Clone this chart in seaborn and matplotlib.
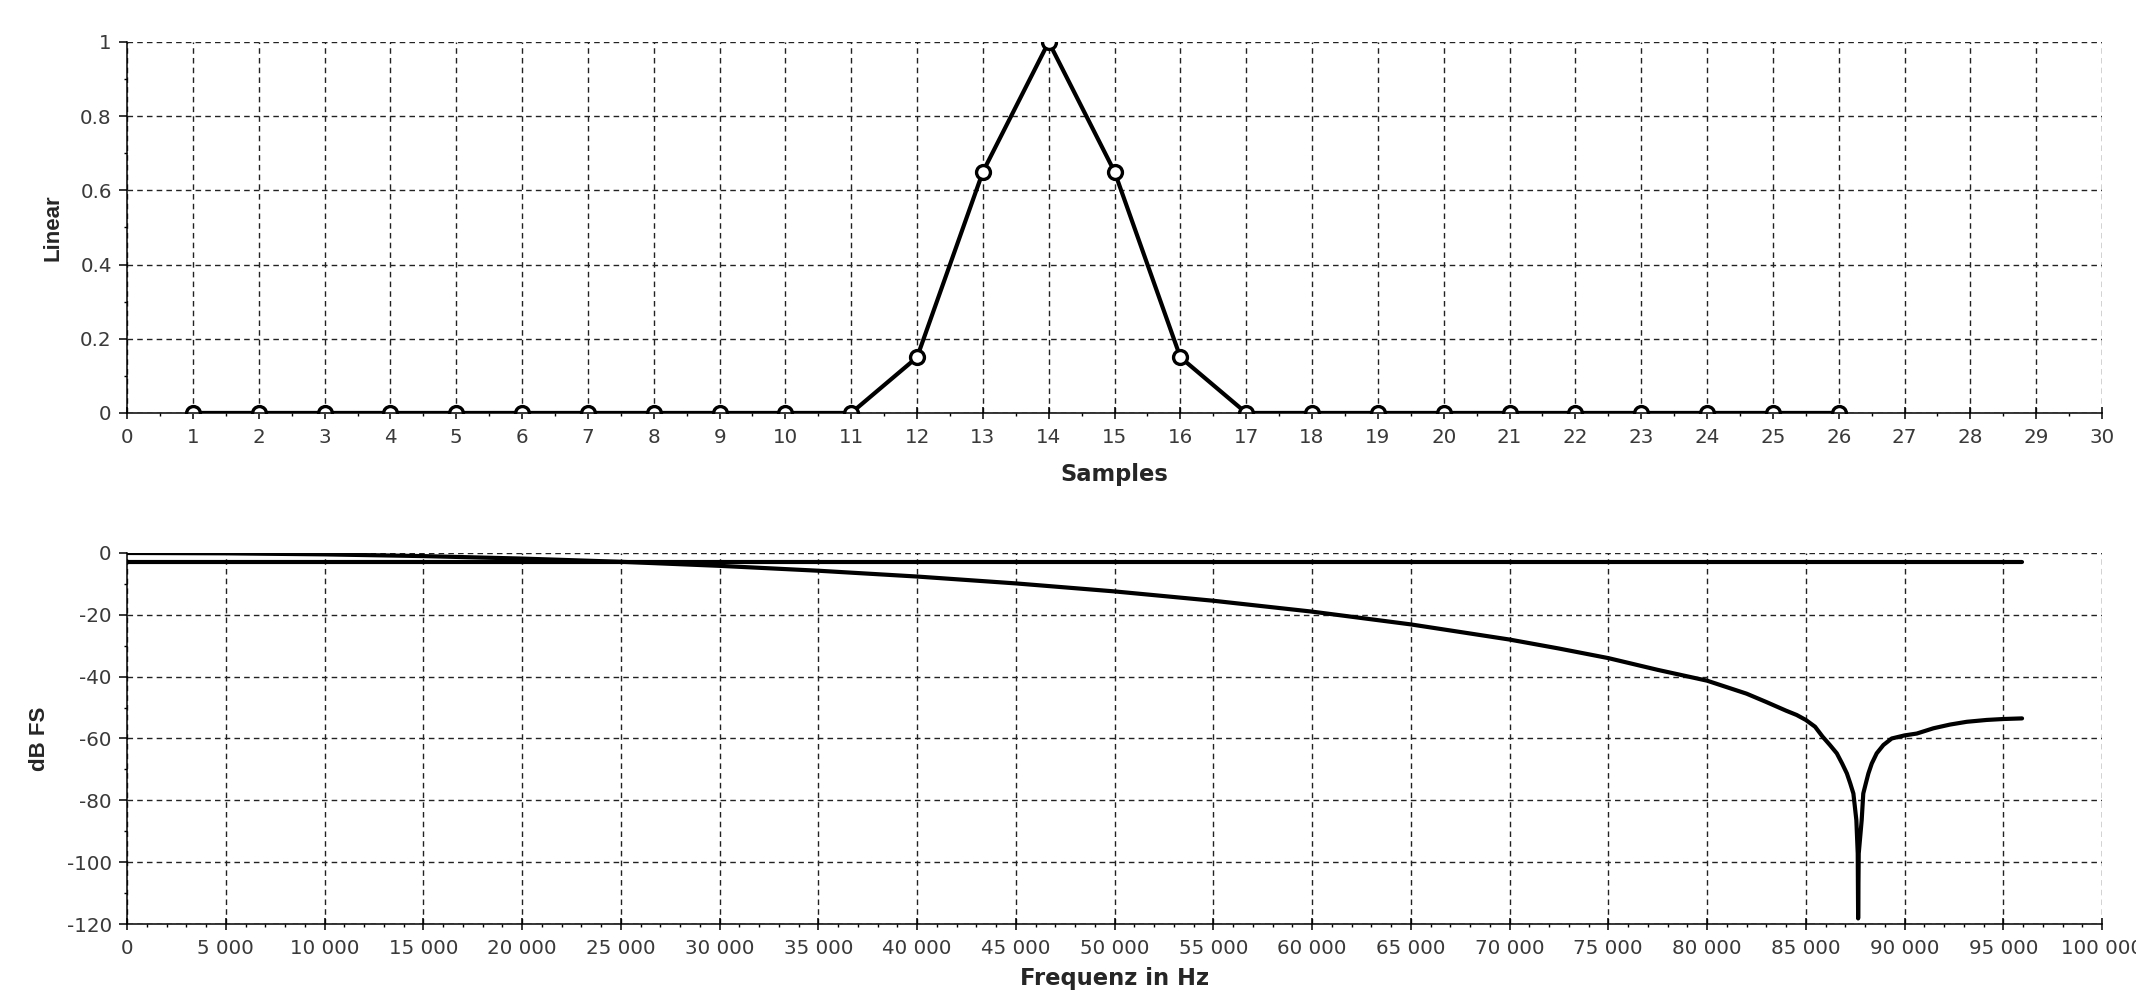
import numpy as np
import pandas as pd
import seaborn as sns
import matplotlib
matplotlib.use('Agg')
import matplotlib.pyplot as plt
from matplotlib.ticker import MultipleLocator, FuncFormatter, FormatStrFormatter

sns.set_theme(style='ticks')
plt.rcParams['font.family'] = ['DejaVu Sans']

# impulse response (top)
samples = list(range(1, 27))
amplitude = [0, 0, 0, 0, 0, 0, 0, 0, 0, 0, 0,
             0.15, 0.65, 1.0, 0.65, 0.15,
             0, 0, 0, 0, 0, 0, 0, 0, 0, 0]

# frequency response (bottom)
freq_hz = [0, 5000, 10000, 15000, 20000, 25000, 30000, 35000, 40000, 45000,
           50000, 55000, 60000, 65000, 70000, 72500, 75000, 77500, 80000, 82000,
           83000, 84000, 84540, 85000, 85470, 85850, 86220, 86570, 86840, 87080,
           87250, 87410, 87560, 87630, 87650,
           87680, 87830, 87910, 88040, 88170, 88340, 88590, 88930, 89350, 90000,
           90620, 91460, 92300, 93150, 94160, 95000, 95950]
response_db = [0.0, -0.11, -0.45, -1.01, -1.81, -2.85, -4.16, -5.74, -7.62, -9.84,
               -12.43, -15.45, -18.97, -23.1, -28.0, -30.9, -34.0, -37.8, -41.3, -45.5,
               -48.2, -51.0, -52.4, -54.0, -56.2, -59.4, -62.1, -64.8, -68.1, -71.3,
               -74.5, -77.8, -86.4, -97.2, -118.2,
               -97.2, -86.4, -77.8, -74.5, -71.3, -68.1, -64.8, -62.1, -60.0, -59.0,
               -58.4, -56.7, -55.5, -54.6, -54.0, -53.7, -53.5]

# -3 dB reference line
ref_hz = [0, 95950]
ref_db = [-3, -3]

TICK_COLOR = '#3a3a3a'
GRID_DASH = (0, (4, 3))


def style_axes(ax):
    for side in ['top', 'right']:
        ax.spines[side].set_visible(False)
    for side in ['left', 'bottom']:
        ax.spines[side].set_color('black')
        ax.spines[side].set_linewidth(1.1)
    ax.set_axisbelow(True)
    ax.grid(True, which='major', color='#222222', linestyle=GRID_DASH, linewidth=1.0)
    ax.tick_params(axis='x', which='major', direction='inout', length=9, width=1.1,
                   pad=6, labelsize=14.3, labelcolor=TICK_COLOR, color='black')
    ax.tick_params(axis='x', which='minor', direction='out', length=2.5, width=1.0,
                   color='black')
    ax.tick_params(axis='y', which='major', direction='out', length=6, width=1.1,
                   pad=5, labelsize=14.3, labelcolor=TICK_COLOR, color='black')
    ax.tick_params(axis='y', which='minor', direction='out', length=2.5, width=1.0,
                   color='black')


fig = plt.figure(figsize=(21.36, 9.91), dpi=100)

# top: samples
ax1 = fig.add_axes([0.0595, 0.5833, 0.9246, 0.3744])
sns.lineplot(x=samples, y=amplitude, ax=ax1, color='black', linewidth=3.0,
             marker='o', markersize=10, markerfacecolor='white',
             markeredgecolor='black', markeredgewidth=2.4)
ax1.set_xlim(0, 30)
ax1.set_ylim(0, 1)
ax1.xaxis.set_major_locator(MultipleLocator(1))
ax1.xaxis.set_minor_locator(MultipleLocator(0.5))
ax1.yaxis.set_major_locator(MultipleLocator(0.2))
ax1.yaxis.set_minor_locator(MultipleLocator(0.1))
ax1.yaxis.set_major_formatter(FormatStrFormatter('%g'))
style_axes(ax1)
ax1.set_xlabel('Samples', fontsize=16.3, fontweight='bold', labelpad=12)
ax1.set_ylabel('Linear', fontsize=16, fontweight='bold', labelpad=12,
               family=['Liberation Sans', 'DejaVu Sans'])

# bottom: frequency response
ax2 = fig.add_axes([0.0595, 0.0676, 0.9246, 0.3744])
sns.lineplot(x=ref_hz, y=ref_db, ax=ax2, color='black', linewidth=3.0)
sns.lineplot(x=freq_hz, y=response_db, ax=ax2, color='black', linewidth=3.0, sort=False)
ax2.set_xlim(0, 100000)
ax2.set_ylim(-120, 0)
ax2.xaxis.set_major_locator(MultipleLocator(5000))
ax2.xaxis.set_minor_locator(MultipleLocator(1000))
ax2.yaxis.set_major_locator(MultipleLocator(20))
ax2.yaxis.set_minor_locator(MultipleLocator(10))
ax2.xaxis.set_major_formatter(FuncFormatter(lambda v, p: f'{int(round(v)):,}'.replace(',', ' ')))
ax2.yaxis.set_major_formatter(FormatStrFormatter('%g'))
style_axes(ax2)
ax2.set_xlabel('Frequenz in Hz', fontsize=16.3, fontweight='bold', labelpad=7)
ax2.set_ylabel('dB FS', fontsize=16, fontweight='bold', labelpad=12,
               family=['Liberation Sans', 'DejaVu Sans'])

fig.savefig('out.png', dpi=100)
